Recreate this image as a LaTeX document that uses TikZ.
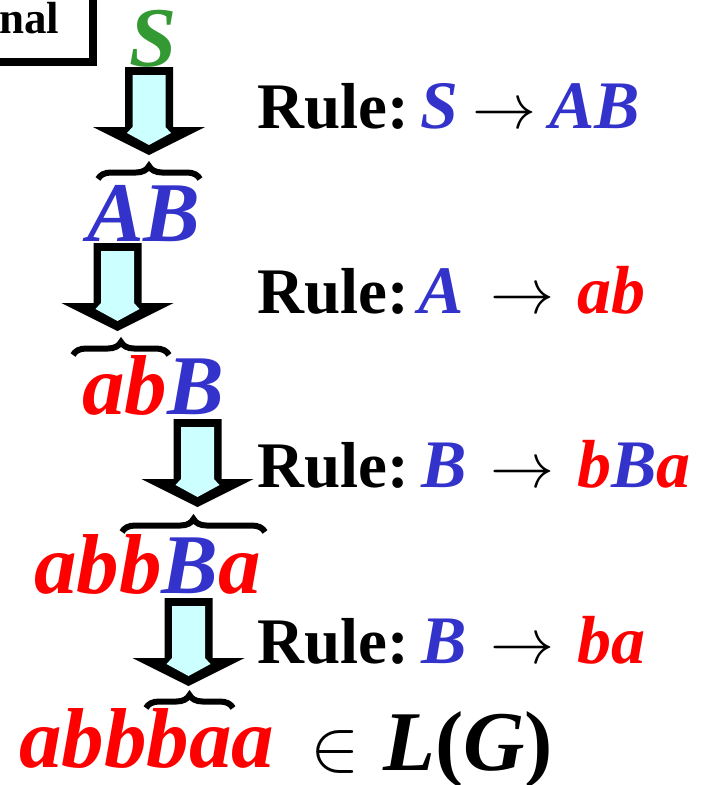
\documentclass[tikz,border=0pt]{standalone}
\usepackage{graphicx}
\usepackage{fontspec}
\setmainfont{Liberation Serif}
\usetikzlibrary{decorations.pathreplacing}
\definecolor{cblue}{RGB}{51,51,204}
\definecolor{cred}{RGB}{255,0,0}
\definecolor{cgreen}{RGB}{51,153,51}
\definecolor{ccyan}{RGB}{204,255,255}
\newcommand\myarrow[3]{% name, cx, top
  \begin{scope}[shift={(#2,-#3)}]
    \fill[black] (-24,0) -- (24,0) -- (24,-60) -- (56,-60) -- (0,-88) -- (-56,-60) -- (-24,-60) -- cycle;
    \fill[ccyan] (-16.5,-8) -- (16.5,-8) -- (16.5,-60) -- (22,-66) -- (0,-78) -- (-22,-66) -- (-16.5,-60) -- cycle;
    \coordinate (#1) at (0,-44);
  \end{scope}}
\newcommand\myB[1]{{\color{cblue}#1}}
\newcommand\myR[1]{{\color{cred}#1}}
\newcommand\bigarr{\scalebox{6.4}{$\rightarrow$}}
\newcommand\bigin{\scalebox{7.4}{$\in$}}
\begin{document}
\begin{tikzpicture}[x=1pt,y=1pt,
  deriv/.style={font=\fontsize{85}{90}\selectfont\bfseries\itshape, inner sep=0pt, anchor=base west},
  rulet/.style={font=\fontsize{65}{75}\selectfont\bfseries, inner sep=0pt, anchor=base west},
  rulev/.style={rulet, font=\fontsize{68}{75}\selectfont\bfseries\itshape},
  rulearr/.style={inner sep=0pt, anchor=base west},
  bracestyle/.style={decorate, decoration={brace, amplitude=13pt}, line width=6pt}]
\useasboundingbox (0,0) rectangle (709,-785);
% top-left box fragment
\draw[line width=8pt] (-10,-61.5) -- (93,-61.5) -- (93,10);
\node[font=\fontsize{45}{50}\selectfont\bfseries, inner sep=0pt, anchor=base west] (nal) at (-1,-33) {nal};
% derivation
\node[deriv, text=cgreen] (s0) at (129,-66) {S};
\myarrow{a1}{149}{67}
\draw[bracestyle] (98,-179) -- (200,-179);
\node[deriv, text=cblue] (s1) at (87,-241) {AB};
\myarrow{a2}{117.5}{243}
\draw[bracestyle] (73,-355) -- (169,-355);
\node[deriv] (s2) at (82,-414) {\myR{ab}\myB{B}};
\myarrow{a3}{197.5}{419}
\draw[bracestyle] (122,-532) -- (265,-532);
\node[deriv] (s3) at (34,-593) {\myR{abb}\myB{B}\myR{a}};
\myarrow{a4}{188.5}{598}
\draw[bracestyle] (146,-708) -- (233,-708);
\node[deriv, text=cred] (s4) at (19,-767) {abbbaa};
\node[inner sep=0pt, anchor=base west] (in) at (310,-770) {\bigin};
\node[deriv] (lg) at (383,-770) {L\textup{(}G\textup{)}};
% rules
\node[rulet] (r1) at (257,-128) {Rule:};
\node[rulev, text=cblue] (r1l) at (420,-128) {S};
\node[rulearr] (r1a) at (472,-128) {\bigarr};
\node[rulev, text=cblue] (r1r) at (549,-128) {AB};
\node[rulet] (r2) at (257,-313) {Rule:};
\node[rulev, text=cblue] (r2l) at (418,-313) {A};
\node[rulearr] (r2a) at (490,-313) {\bigarr};
\node[rulev, text=cred] (r2r) at (577,-313) {ab};
\node[rulet] (r3) at (257,-487) {Rule:};
\node[rulev, text=cblue] (r3l) at (421,-487) {B};
\node[rulearr] (r3a) at (490,-487) {\bigarr};
\node[rulev] (r3r) at (577,-487) {\myR{b}\myB{B}\myR{a}};
\node[rulet] (r4) at (257,-663) {Rule:};
\node[rulev, text=cblue] (r4l) at (421,-663) {B};
\node[rulearr] (r4a) at (490,-663) {\bigarr};
\node[rulev, text=cred] (r4r) at (577,-663) {ba};
\end{tikzpicture}
\end{document}
